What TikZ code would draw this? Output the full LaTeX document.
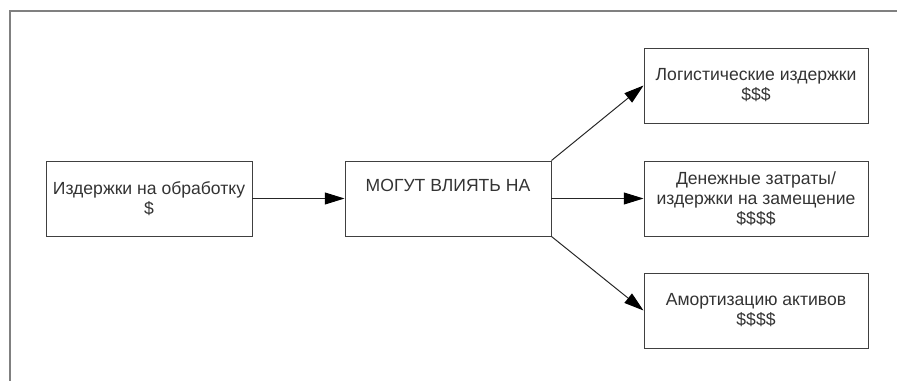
\documentclass[tikz,border=0pt]{standalone}
\usepackage{fontspec}
\setmainfont{Liberation Sans}
\usetikzlibrary{arrows.meta}

\begin{document}
\begin{tikzpicture}[
        box/.style={draw=black!75, line width=0.7pt, minimum width=5.15cm, minimum height=1.875cm,
            align=center, text=black!80, font=\fontsize{12.5}{14.2}\selectfont},
        bigbox/.style={box, minimum width=5.6cm},
        arr/.style={-{Triangle[length=14pt,width=8.5pt,color=black]}, draw=black!85, line width=0.7pt}
    ]
            \useasboundingbox (0, 0) rectangle (22.425, 9.525);
            \draw[black!50, line width=1.2pt] (22.425, 9.25) -- (0.25, 9.25) -- (0.25, 0);
            \node[box] (cost) at (3.725, 4.5625) {Издержки на обработку\\\$};
            \node[box] (may) at (11.2, 4.5625) {МОГУТ ВЛИЯТЬ НА\\\strut};
            \node[bigbox] (logist) at (18.9, 7.3875) {Логистические издержки\\\$\$\$};
            \node[bigbox] (money) at (18.9, 4.5625) {Денежные затраты/\\издержки на замещение\\\$\$\$\$};
            \node[bigbox] (amort) at (18.9, 1.7625) {Амортизацию активов\\\$\$\$\$};
            \draw[arr] (cost) -- (may);
            \draw[arr] (may.north east) -- (logist.west);
            \draw[arr] (may) -- (money);
            \draw[arr] (may.south east) -- (amort.west);
        \end{tikzpicture}
\end{document}
